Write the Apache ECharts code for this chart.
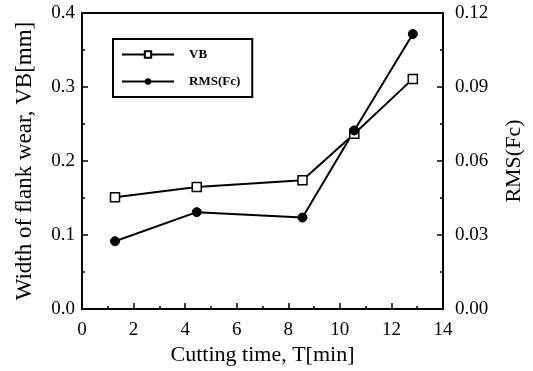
<!DOCTYPE html>
<html><head><meta charset="utf-8">
<script src="https://cdn.jsdelivr.net/npm/echarts@6/dist/echarts.min.js"></script>
<style>html,body{margin:0;padding:0;background:#fff}#c{width:533px;height:371px}</style>
</head><body><div id="c"></div>
<script>
const timeVB = [1.28, 4.45, 8.55, 10.56, 12.83];
const vbValues = [0.151, 0.165, 0.174, 0.237, 0.311];
const timeRMS = [1.28, 4.45, 8.55, 10.56, 12.83];
const rmsValues = [0.0275, 0.0393, 0.0371, 0.0724, 0.1115];
const leftTicks = [0, 0.1, 0.2, 0.3, 0.4];
const rightTicks = [0, 0.03, 0.06, 0.09, 0.12];

const font = 'Liberation Serif';
const chart = echarts.init(document.getElementById('c'));
const axisCommon = {
  axisLine: {show: true, onZero: false, lineStyle: {color: '#000', width: 2}},
  axisTick: {show: true, inside: true, length: 6, lineStyle: {color: '#000', width: 1.5}},
  minorTick: {show: true, splitNumber: 2, length: 3, lineStyle: {color: '#000', width: 1.5}},
  splitLine: {show: false},
  axisLabel: {color: '#000', fontFamily: font, fontSize: 19},
  nameTextStyle: {color: '#000', fontFamily: font, fontSize: 22}
};
chart.setOption({
  animation: false,
  backgroundColor: '#fff',
  grid: {left: 82, right: 83, top: 13, bottom: 56, show: true, borderColor: '#000', borderWidth: 2},
  legend: {
    left: 113, top: 39, orient: 'vertical',
    borderColor: '#000', borderWidth: 2, padding: [9, 12, 9, 8],
    itemWidth: 52, itemHeight: 8, itemGap: 14,
    textStyle: {color: '#000', fontFamily: font, fontSize: 13, fontWeight: 'bold', padding: [0, 0, 0, 10]},
    data: ['VB', 'RMS(Fc)']
  },
  xAxis: Object.assign({}, axisCommon, {
    type: 'value', min: 0, max: 14, interval: 2,
    name: 'Cutting time, T[min]', nameLocation: 'middle', nameGap: 32,
    axisLabel: Object.assign({}, axisCommon.axisLabel, {margin: 11})
  }),
  yAxis: [
    Object.assign({}, axisCommon, {
      type: 'value', min: 0, max: 0.4, interval: 0.1, position: 'left',
      name: 'Width of flank wear, VB[mm]', nameLocation: 'middle', nameGap: 46,
      nameTextStyle: Object.assign({}, axisCommon.nameTextStyle, {fontSize: 23}),
      axisLabel: Object.assign({}, axisCommon.axisLabel, {margin: 7, padding: [8, 0, 0, 0], formatter: v => v.toFixed(1)})
    }),
    Object.assign({}, axisCommon, {
      type: 'value', min: 0, max: 0.12, interval: 0.03, position: 'right',
      name: 'RMS(Fc)', nameLocation: 'middle', nameGap: 60,
      axisLabel: Object.assign({}, axisCommon.axisLabel, {margin: 12, padding: [8, 0, 0, 0], formatter: v => v.toFixed(2)})
    })
  ],
  series: [
    {
      name: 'VB', type: 'line', yAxisIndex: 0,
      data: timeVB.map((t, i) => [t, vbValues[i]]),
      symbol: 'rect', symbolSize: 9, showAllSymbol: true,
      lineStyle: {color: '#000', width: 2},
      itemStyle: {color: '#fff', borderColor: '#000', borderWidth: 1.5}
    },
    {
      name: 'RMS(Fc)', type: 'line', yAxisIndex: 1,
      data: timeRMS.map((t, i) => [t, rmsValues[i]]),
      symbol: 'circle', symbolSize: 9,
      lineStyle: {color: '#000', width: 2},
      itemStyle: {color: '#000', borderColor: '#000'}
    }
  ]
});
</script></body></html>
